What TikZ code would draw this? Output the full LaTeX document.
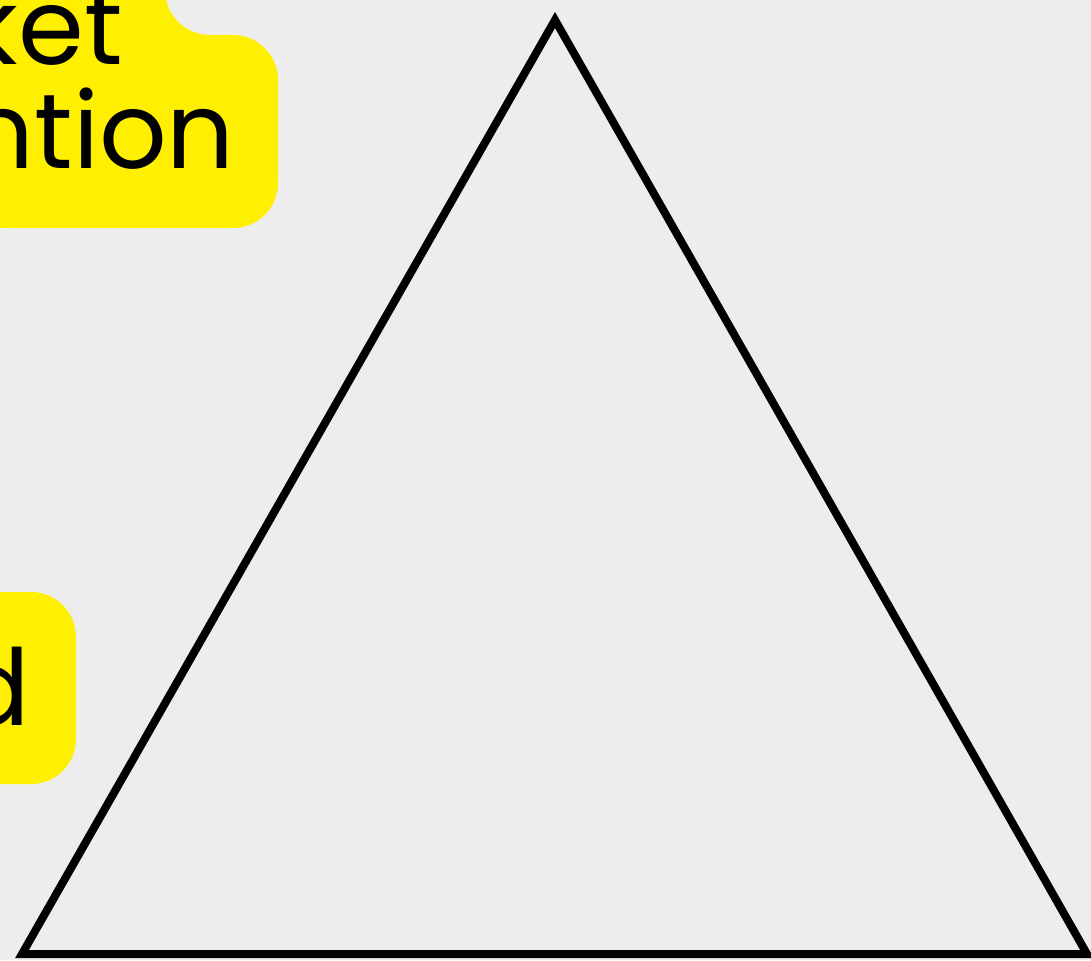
\documentclass[tikz,border=0pt]{standalone}
\usepackage{fontspec}
\setmainfont{Poppins}
\usepackage{xcolor}
\definecolor{paper-grey}{HTML}{EDEDED}
\definecolor{marker-yellow}{HTML}{FFEF00}
\tikzstyle{hl-fill} = [fill=marker-yellow]
\tikzstyle{hl-text} = [inner sep=0pt, text=black, anchor=base east,
    font=\fontsize{106}{106}\selectfont]
\tikzstyle{tri-line} = [draw=black, line width=8pt, miter limit=10]

\begin{document}
\begin{tikzpicture}[x=1pt,y=-1pt]
\useasboundingbox (0,0) rectangle (1091,960);
\clip (0,0) rectangle (1091,960);
\fill[paper-grey] (0,0) rectangle (1091,960);
% yellow label boxes, cut by the left and top edges
\fill[hl-fill] (-40,-120) -- (165,-120) -- (165,-10)
    arc[start angle=180, end angle=90, radius=45]
    [rounded corners=45] -- (278,35) -- (278,228) -- (-40,228) -- cycle;
\fill[hl-fill, rounded corners=45] (-80,592) rectangle (76,784);
\node[hl-text] (ket) at (123,65) {ket};
\node[hl-text] (ntion) at (235,168) {ntion};
\node[hl-text] (d) at (30,725) {d};
% triangle
\coordinate (apex) at (555,20);
\coordinate (corner-l) at (22,954);
\coordinate (corner-r) at (1087,954);
\draw[tri-line] (apex) -- (corner-l) -- (corner-r) -- cycle;
\end{tikzpicture}
\end{document}
